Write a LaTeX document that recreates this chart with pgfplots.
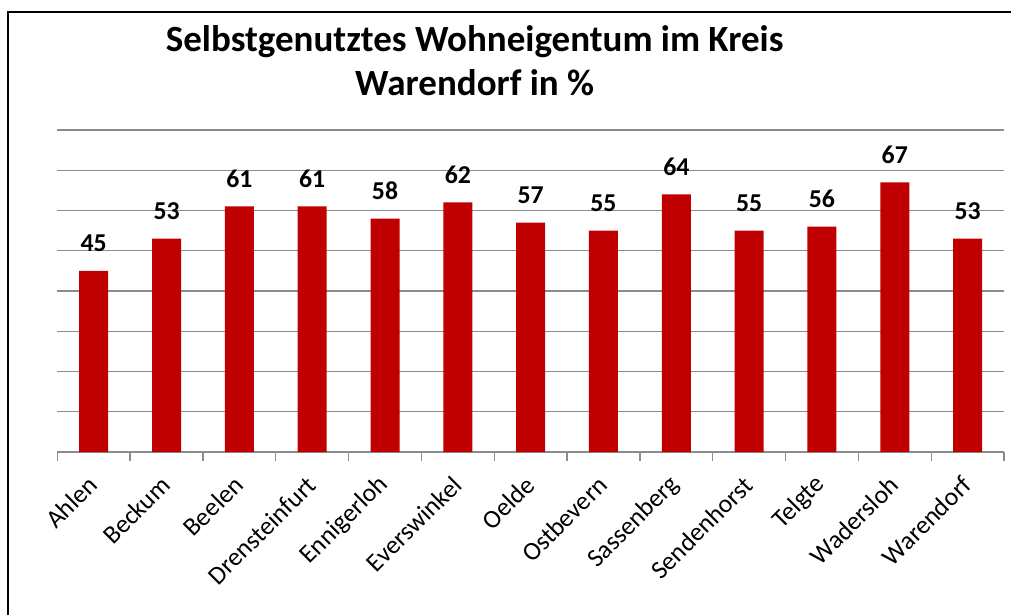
\documentclass[border=0pt]{standalone}
\usepackage{fontspec}
\setmainfont{Carlito}
\usepackage{pgfplots}
\pgfplotsset{compat=1.18}
\definecolor{barred}{HTML}{C00000}
\definecolor{gridgray}{HTML}{8C8C8C}
\begin{document}
\begin{tikzpicture}
\useasboundingbox (0,0) rectangle (758.25pt,461.25pt);
\draw[line width=1.6pt] (6pt,0) -- (6pt,452.25pt) -- (758.25pt,452.25pt);
\node[anchor=base,font=\bfseries\fontsize{27.75}{30}\selectfont,inner sep=0] at (356pt,422.25pt) {Selbstgenutztes Wohneigentum im Kreis};
\node[anchor=base,font=\bfseries\fontsize{27.75}{30}\selectfont,inner sep=0] at (356pt,389.25pt) {Warendorf in \%};
\begin{axis}[
  at={(43pt,122.25pt)}, anchor=south west,
  scale only axis, width=710pt, height=241.5pt,
  xmin=-0.5, xmax=12.5, ymin=0, ymax=80,
  axis x line*=bottom, axis y line*=left,
  x axis line style={draw=gridgray, line width=1pt},
  y axis line style={draw=none},
  xtick={0,...,12},
  xticklabels={Ahlen,Beckum,Beelen,Drensteinfurt,Ennigerloh,Everswinkel,Oelde,Ostbevern,Sassenberg,Sendenhorst,Telgte,Wadersloh,Warendorf},
  minor xtick={-0.5,0.5,...,12.5},
  major tick length=0pt, minor tick length=6.75pt, tick align=outside,
  minor x tick style={draw=gridgray, line width=1pt},
  ytick={0,10,...,80}, yticklabels={}, y tick style={draw=none},
  ymajorgrids, major grid style={draw=gridgray, line width=1pt},
  xticklabel style={yshift=-21.5pt, xshift=-0.5pt, rotate=45, anchor=east, inner sep=0pt, font=\fontsize{19.3}{22}\selectfont},
  /pgf/number format/assume math mode=true,
  ybar, bar width=21.75pt,
  nodes near coords,
  every node near coord/.append style={anchor=base, inner sep=0pt, yshift=14.5pt, font=\bfseries\fontsize{19.3}{22}\selectfont, text=black},
]
\addplot[fill=barred, draw=none] coordinates {(0,45) (1,53) (2,61) (3,61) (4,58) (5,62) (6,57) (7,55) (8,64) (9,55) (10,56) (11,67) (12,53)};
\end{axis}
\end{tikzpicture}
\end{document}
